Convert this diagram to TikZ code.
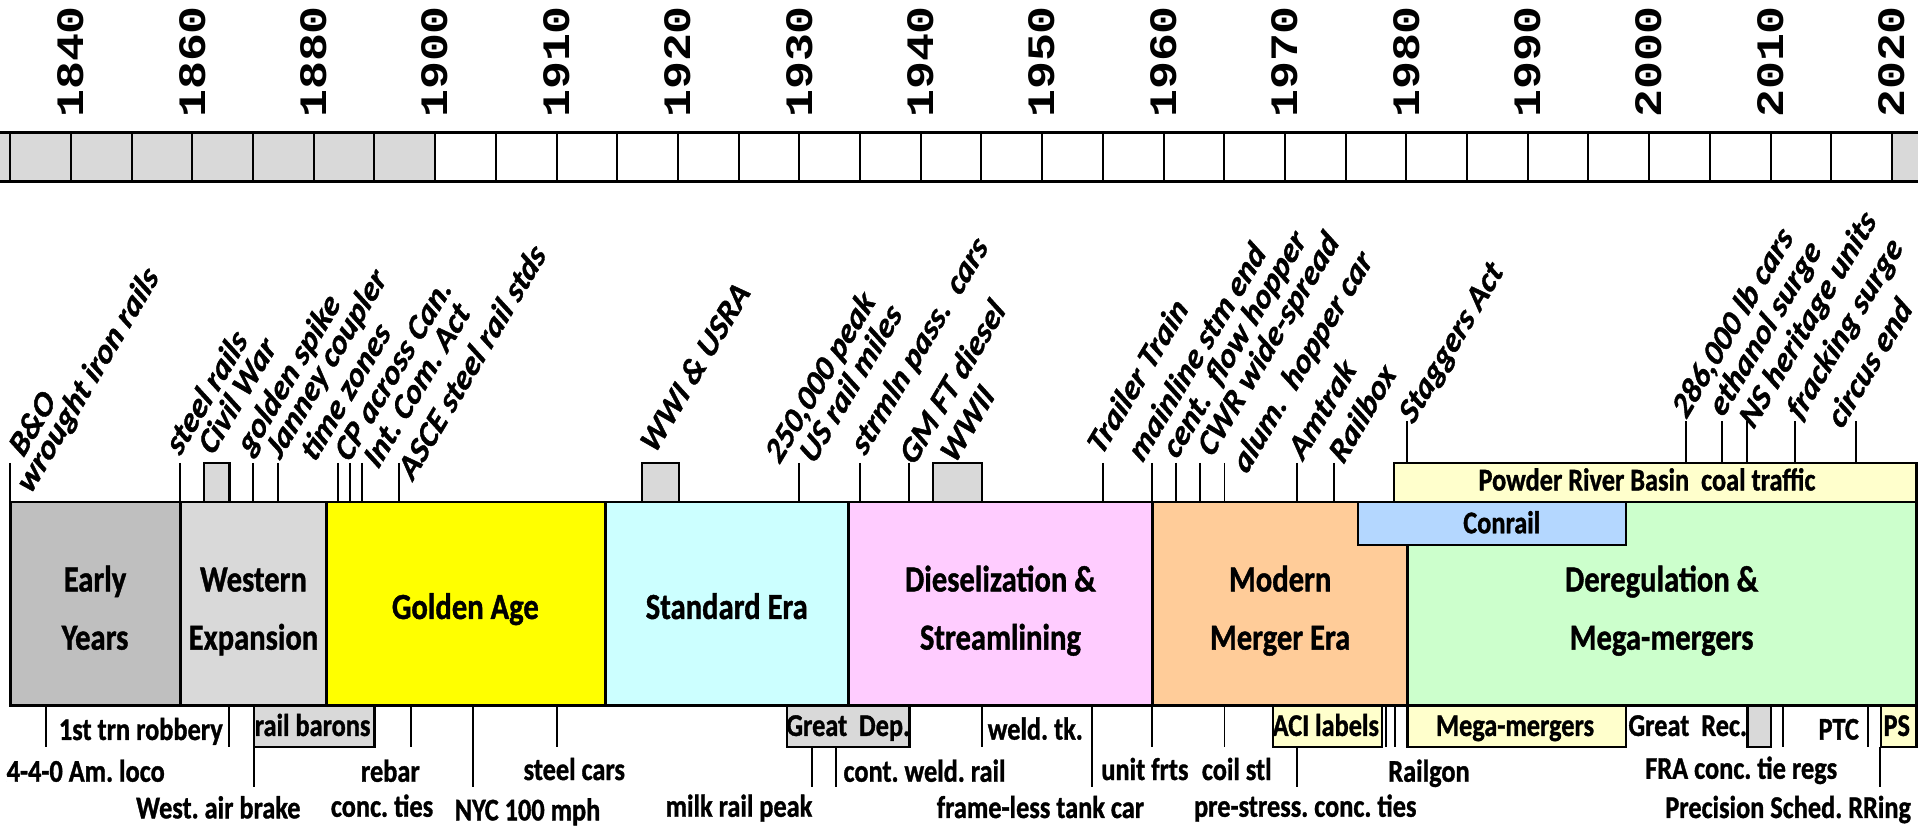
\documentclass[tikz,border=0pt]{standalone}
\usepackage{fontspec}
\setmainfont{Carlito}[BoldFeatures={FakeBold=1.2},BoldItalicFeatures={FakeBold=1.2}]
\newfontfamily\yearfont{Liberation Mono}
\definecolor{cEarly}{HTML}{BFBFBF}
\definecolor{cGray}{HTML}{D9D9D9}
\definecolor{cGolden}{HTML}{FFFF00}
\definecolor{cStd}{HTML}{CCFFFF}
\definecolor{cDiesel}{HTML}{FFCCFF}
\definecolor{cModern}{HTML}{FFCC99}
\definecolor{cDereg}{HTML}{CCFFCC}
\definecolor{cConrail}{HTML}{B4D7FF}
\definecolor{cPale}{HTML}{FFFFCC}
\tikzset{
  yearlab/.style={rotate=90, anchor=west, inner sep=0pt, font=\yearfont\bfseries\fontsize{31.7}{32}\selectfont},
  rlab/.style={rotate=54.5, anchor=base west, inner sep=0pt, font=\frenchspacing\bfseries\itshape\fontsize{24.5}{25}\selectfont},
  blab/.style={anchor=base, inner sep=0pt, font=\frenchspacing\bfseries\fontsize{21.5}{21.5}\selectfont},
  era/.style={anchor=base, inner sep=0pt, font=\frenchspacing\bfseries\fontsize{25}{25}\selectfont},
  bandline/.style={line width=2.2pt},
  cellline/.style={line width=1.6pt},
  tickline/.style={line width=1.6pt},
  boxline/.style={draw=black, line width=2pt},
}
\begin{document}
\begin{tikzpicture}[x=1pt, y=-0.8333333pt, yscale=1.2, transform shape]
\useasboundingbox (0,0) rectangle (1568,679);

% ---------- top year bar ----------
\fill[cGray] (0,108) rectangle (355.4,148);
\fill[cGray] (1545.1,108) rectangle (1566,148);
\foreach \k in {0,...,31} \draw[cellline] ({8.4+49.57*\k},108) -- ({8.4+49.57*\k},148);
\draw[bandline] (0,108) -- (1566,108) (0,148) -- (1566,148);
\foreach \k/\yr in {1/1840,3/1860,5/1880,7/1900,9/1910,11/1920,13/1930,15/1940,17/1950,19/1960,21/1970,23/1980,25/1990,27/2000,29/2010,31/2020}
  \node[yearlab] (y\yr) at ({8.4+49.57*\k},96.5) {\yr};

% ---------- eras ----------
\filldraw[fill=cEarly, bandline] (8.5,410) rectangle (147.5,576);
\filldraw[fill=cGray, bandline] (147.5,410) rectangle (266.7,576);
\filldraw[fill=cGolden, bandline] (266.7,410) rectangle (494.3,576);
\filldraw[fill=cStd, bandline] (494.3,410) rectangle (692.7,576);
\filldraw[fill=cDiesel, bandline] (692.7,410) rectangle (941,576);
\filldraw[fill=cModern, bandline] (941,410) rectangle (1149.6,576);
\filldraw[fill=cDereg, bandline] (1149.6,410) rectangle (1565,576);
\filldraw[fill=cConrail, boxline] (1109,410) rectangle (1328,445);
\filldraw[fill=cPale, boxline] (1138.5,378) rectangle (1565,410);

\node[era] (eEarlyA) at (77.6,483) {Early};
\node[era] (eEarlyB) at (77.6,530.5) {Years};
\node[era] (eWestA) at (207,483) {Western};
\node[era] (eWestB) at (207,530.5) {Expansion};
\node[era] (eGold) at (380,505.5) {Golden Age};
\node[era] (eStd) at (593.5,505.5) {Standard Era};
\node[era] (eDieA) at (817,483) {Dieselization \&};
\node[era] (eDieB) at (817,530.5) {Streamlining};
\node[era] (eModA) at (1045.5,483) {Modern};
\node[era] (eModB) at (1045.5,530.5) {Merger Era};
\node[era] (eDerA) at (1357,483) {Deregulation \&};
\node[era] (eDerB) at (1357,530.5) {Mega-mergers};
\node[blab] (nConrail) at (1226.4,435.5) {Conrail};
\node[blab] (nPRB) at (1345,400.5) {Powder River Basin\ \ coal traffic};

% ---------- boxes above band ----------
\filldraw[fill=cGray, boxline] (166.7,378) rectangle (187.3,410);
\filldraw[fill=cGray, boxline] (524.4,378) rectangle (554.4,410);
\filldraw[fill=cGray, boxline] (762,378) rectangle (802,410);

% ---------- ticks above ----------
\foreach \x in {8.5,147.3,206.7,226.7,276,286,295.7,326,652.7,702.7,742.7,901,941,960.3,980.3,1000,1059.3,1089.3}
  \draw[tickline] (\x,378) -- (\x,410);
\foreach \x in {1149,1377,1406.3,1427,1466,1516}
  \draw[tickline] (\x,344) -- (\x,378);

% ---------- rotated labels ----------
\node[rlab] (lBO) at (19,374.5) {B\&O};
\node[rlab] (lWI) at (25,404.4) {wrought iron rails};
\node[rlab] (lSR) at (147,373) {steel rails};
\node[rlab] (lCW) at (173.7,373) {Civil War};
\node[rlab] (lGS) at (205,373) {golden spike};
\node[rlab] (lJC) at (228.7,376) {Janney coupler};
\node[rlab] (lTZ) at (257,378.6) {time zones};
\node[rlab] (lCP) at (285,378.6) {CP across Can.};
\node[rlab] (lIC) at (308.7,384) {Int. Com. Act};
\node[rlab] (lAS) at (337,393.5) {ASCE steel rail stds};
\node[rlab] (lWWA) at (534.7,371.8) {WWI \& USRA};
\node[rlab] (lPK) at (636.4,380) {250,000 peak};
\node[rlab] (lUS) at (664.7,380) {US rail miles};
\node[rlab] (lSP) at (706.4,373) {strmln pass.\ \ cars};
\node[rlab] (lGM) at (746.4,381.3) {GM FT diesel};
\node[rlab] (lWWB) at (779.7,380) {WWII};
\node[rlab] (lTT) at (899.7,373) {Trailer Train};
\node[rlab] (lMS) at (933,378.6) {mainline stm end};
\node[rlab] (lCF) at (961,376) {cent.\ \ flow hopper};
\node[rlab] (lCWR) at (989.7,374.5) {CWR wide-spread};
\node[rlab] (lAH) at (1018,388) {alum.\ \ hopper car};
\node[rlab] (lAM) at (1064,377) {Amtrak};
\node[rlab] (lRB) at (1097,380) {Railbox};
\node[rlab] (lSA) at (1154,347.3) {Staggers Act};
\node[rlab] (lLB) at (1377,343.2) {286,000 lb cars};
\node[rlab] (lET) at (1407,341.8) {ethanol surge};
\node[rlab] (lNS) at (1432,351.4) {NS heritage units};
\node[rlab] (lFR) at (1470.7,344.5) {fracking surge};
\node[rlab] (lCE) at (1504,351.4) {circus end};

% ---------- boxes below band ----------
\filldraw[fill=cGray, boxline] (207.3,576) rectangle (306,610);
\filldraw[fill=cGray, boxline] (642.7,576) rectangle (742.7,610);
\filldraw[fill=cPale, boxline] (1039.4,576) rectangle (1128.7,610);
\filldraw[fill=cPale, boxline] (1149.6,576) rectangle (1328,610);
\filldraw[fill=cGray, boxline] (1427,576) rectangle (1446.3,610);
\filldraw[fill=cPale, boxline] (1536,576) rectangle (1565,610);

% ---------- ticks below ----------
\foreach \x in {37.3,187.3,335.7,455,802,941,1000,1131.5,1139,1456,1525.3}
  \draw[tickline] (\x,576) -- (\x,610);
\foreach \x in {207.3,386,891.7}
  \draw[tickline] (\x,576) -- (\x,642.4);
\foreach \x in {663.3,682.7,1059.3,1535.3}
  \draw[tickline] (\x,610) -- (\x,642.4);

% ---------- labels below ----------
\node[blab] (b1) at (115,604.3) {1st trn robbery};
\node[blab] (b2) at (255.3,601) {rail barons};
\node[blab] (b3) at (692.7,601) {Great\ \ Dep.};
\node[blab] (b4) at (845.5,604) {weld. tk.};
\node[blab] (b5) at (1082.7,601) {ACI labels};
\node[blab] (b6) at (1237.3,601) {Mega-mergers};
\node[blab] (b7) at (1378.3,601) {Great\ \ Rec.};
\node[blab] (b8) at (1501.6,604) {PTC};
\node[blab] (b9) at (1549,601) {PS};

\node[blab] (c1) at (70,638.4) {4-4-0 Am. loco};
\node[blab] (c2) at (318.8,638.4) {rebar};
\node[blab] (c3) at (469,637) {steel cars};
\node[blab] (c4) at (755,638.4) {cont. weld. rail};
\node[blab] (c5) at (935,637) {unit frts};
\node[blab] (c6) at (1010,637) {coil stl};
\node[blab] (c7) at (1167,638.4) {Railgon};
\node[blab] (c8) at (1422,636) {FRA conc. tie regs};

\node[blab] (d1) at (178.3,668.3) {West. air brake};
\node[blab] (d2) at (312,667) {conc. ties};
\node[blab] (d3) at (430.8,670) {NYC 100 mph};
\node[blab] (d4) at (603.5,667) {milk rail peak};
\node[blab] (d5) at (849.7,668) {frame-less tank car};
\node[blab] (d6) at (1066,667) {pre-stress. conc. ties};
\node[blab] (d7) at (1460.3,668) {Precision Sched. RRing};
\end{tikzpicture}
\end{document}
